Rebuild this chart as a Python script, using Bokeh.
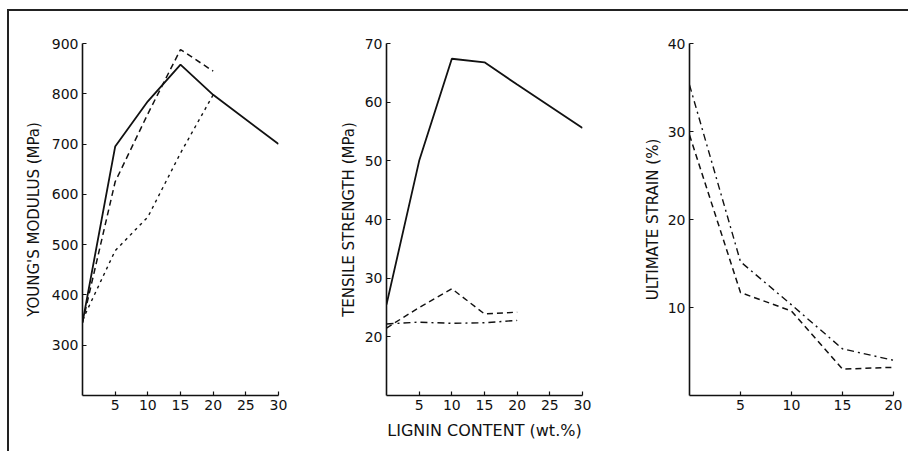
from bokeh.plotting import figure
from bokeh.layouts import Row
from bokeh.models import Range1d, FixedTicker
from bokeh.embed import file_html
from bokeh.resources import INLINE

# ---------------- data ----------------
# Panel 1: Young's modulus (MPa) vs lignin content (wt.%)
x1_solid = [0, 5, 10, 15, 20, 30]
y1_solid = [345, 695, 785, 858, 798, 700]
x1_dash = [0, 5, 10, 15, 20]
y1_dash = [345, 625, 760, 888, 845]
x1_dot = [0, 5, 10, 15, 20]
y1_dot = [350, 488, 555, 682, 798]
x1_ticks = [5, 10, 15, 20, 25, 30]
y1_ticks = [300, 400, 500, 600, 700, 800, 900]

# Panel 2: Tensile strength (MPa)
x2_solid = [0, 5, 10, 15, 20, 30]
y2_solid = [25.5, 50, 67.4, 66.8, 63, 55.6]
x2_dash = [0, 5, 10, 15, 20]
y2_dash = [21.5, 25, 28.2, 23.9, 24.2]
x2_dashdot = [0, 5, 10, 15, 20]
y2_dashdot = [22.2, 22.5, 22.3, 22.4, 22.8]
x2_ticks = [5, 10, 15, 20, 25, 30]
y2_ticks = [20, 30, 40, 50, 60, 70]

# Panel 3: Ultimate strain (%)
x3 = [0, 5, 10, 15, 20]
y3_dashdot = [35.3, 15.2, 10.3, 5.3, 4.0]
y3_dash = [29.6, 11.7, 9.6, 3.0, 3.2]
x3_ticks = [5, 10, 15, 20]
y3_ticks = [10, 20, 30, 40]

FONT = "DejaVu Sans"
INK = "#111111"
H = 440


def make_fig(w, left, right, xr, yr, xticks, yticks):
    p = figure(width=w, height=H, x_range=Range1d(*xr), y_range=Range1d(*yr),
               output_backend="svg", toolbar_location=None,
               min_border_left=left, min_border_right=right,
               min_border_top=32, min_border_bottom=56)
    p.grid.visible = False
    p.outline_line_color = None
    p.background_fill_color = "white"
    p.border_fill_color = "white"
    p.xaxis.ticker = FixedTicker(ticks=xticks)
    p.yaxis.ticker = FixedTicker(ticks=yticks)
    for ax in (p.xaxis, p.yaxis):
        ax.axis_line_width = 1.6
        ax.axis_line_color = INK
        ax.major_tick_in = 4
        ax.major_tick_out = 0
        ax.major_tick_line_color = INK
        ax.major_tick_line_width = 1.2
        ax.minor_tick_line_color = None
        ax.major_label_text_font = FONT
        ax.major_label_text_font_size = "14px"
        ax.major_label_text_color = INK
        ax.major_label_standoff = 4
        ax.axis_label_text_font = FONT
        ax.axis_label_text_font_style = "normal"
        ax.axis_label_text_color = INK
        ax.axis_label_text_font_size = "15px"
    return p


# Panel 1
p1 = make_fig(297, 73, 28, (0, 30), (200, 900), x1_ticks, y1_ticks)
p1.line(x1_solid, y1_solid, line_color=INK, line_width=1.8)
p1.line(x1_dash, y1_dash, line_color=INK, line_width=1.5, line_dash="6 4")
p1.line(x1_dot, y1_dot, line_color=INK, line_width=1.4, line_dash="3 4")
p1.yaxis.axis_label = "YOUNG'S MODULUS (MPa)"
p1.yaxis.axis_label_standoff = 6

# Panel 2
p2 = make_fig(298, 80, 22, (0, 30), (10, 70), x2_ticks, y2_ticks)
p2.line(x2_solid, y2_solid, line_color=INK, line_width=1.8)
p2.line(x2_dash, y2_dash, line_color=INK, line_width=1.4, line_dash="6 4")
p2.line(x2_dashdot, y2_dashdot, line_color=INK, line_width=1.4, line_dash="7 4 2 4")
p2.yaxis.axis_label = "TENSILE STRENGTH (MPa)"
p2.yaxis.axis_label_standoff = 4
p2.xaxis.axis_label = "LIGNIN CONTENT (wt.%)"
p2.xaxis.axis_label_standoff = 8
p2.xaxis.axis_label_text_font_size = "16px"

# Panel 3
p3 = make_fig(304, 85, 15, (0, 20), (0, 40), x3_ticks, y3_ticks)
p3.line(x3, y3_dashdot, line_color=INK, line_width=1.4, line_dash="7 4 2 4")
p3.line(x3, y3_dash, line_color=INK, line_width=1.5, line_dash="6 4")
p3.yaxis.axis_label = "ULTIMATE STRAIN (%)"
p3.yaxis.axis_label_standoff = 3

layout = Row(children=[p1, p2, p3], spacing=0,
             styles={"border-top": "2px solid #222", "border-left": "2px solid #222",
                     "margin-top": "9px", "margin-left": "7px",
                     "overflow": "visible"})

open("out.html", "w").write(file_html(layout, INLINE))
